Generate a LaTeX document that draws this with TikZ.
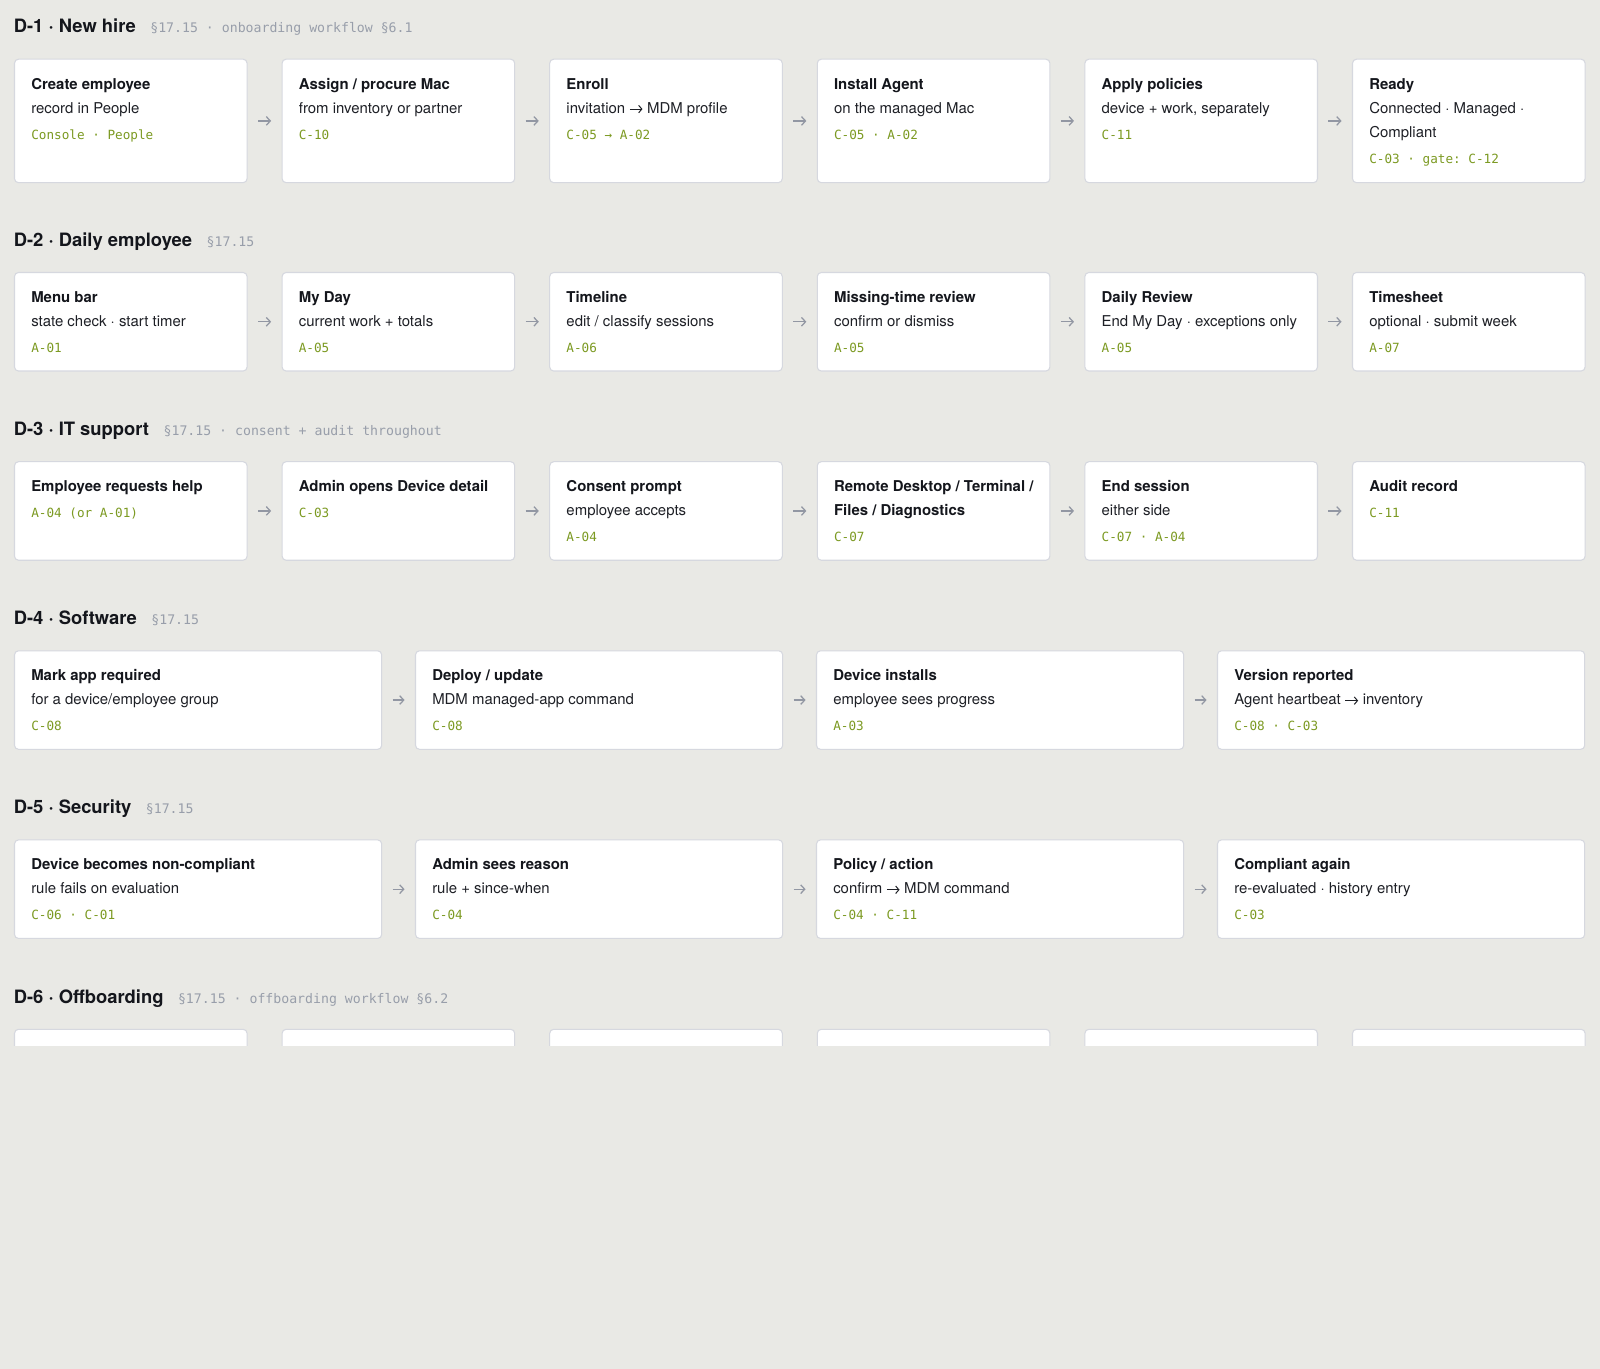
\documentclass[tikz,border=0pt]{standalone}
\usepackage{fontspec}
\setmainfont{TeX Gyre Heros}
\setmonofont{DejaVu Sans Mono}
\usetikzlibrary{calc,arrows.meta}
\definecolor{bgc}{RGB}{233,233,229}
\definecolor{bordc}{RGB}{214,216,223}
\definecolor{ttlc}{RGB}{20,22,28}
\definecolor{subc}{RGB}{30,32,38}
\definecolor{codec}{RGB}{124,154,34}
\definecolor{notec}{RGB}{152,158,170}
\definecolor{arrc}{RGB}{146,151,163}
\newcommand{\rarr}{\tikz[baseline=-3.1pt]\draw[line width=0.75pt,-{Straight Barb[length=2.4pt,width=5.6pt]}] (0pt,0pt) -- (9.5pt,0pt);}
\tikzset{
  flowbox/.style={draw=bordc, fill=white, line width=0.8pt, rounded corners=3pt, anchor=north west, inner sep=0pt, outer sep=0pt},
  boxttl/.style={anchor=base west, inner sep=0pt, text=ttlc, font=\fontsize{11.2pt}{13pt}\selectfont\bfseries},
  boxsub/.style={anchor=base west, inner sep=0pt, text=subc, font=\fontsize{11.2pt}{13pt}\selectfont},
  boxcode/.style={anchor=base west, inner sep=0pt, text=codec, font=\fontsize{9.5pt}{11pt}\selectfont\ttfamily},
  hdr/.style={anchor=base west, inner sep=0pt, text=ttlc, font=\fontsize{13.8pt}{16pt}\selectfont\bfseries},
  hnote/.style={anchor=base west, inner sep=0pt, text=notec, font=\fontsize{9.9pt}{12pt}\selectfont\ttfamily},
  flowarrow/.style={draw=arrc, line width=0.95pt, shorten <=8.2pt, shorten >=8.2pt, -{Straight Barb[length=3pt,width=6.5pt]}}
}
% box: name, x, top y, width(pt), height(pt)
\newcommand{\mkbox}[5]{\node[flowbox, minimum width=#4, minimum height=#5] (#1) at (#2,#3) {};}
% title + sub + code
\newcommand{\boxTSC}[4]{%
  \node[boxttl] (#1-t) at ($(#1.north west)+(16.5,30)$) {#2};
  \node[boxsub] (#1-s) at ($(#1.north west)+(16.5,54)$) {#3};
  \node[boxcode] (#1-c) at ($(#1.north west)+(16.5,80)$) {#4};}
% title + code
\newcommand{\boxTC}[3]{%
  \node[boxttl] (#1-t) at ($(#1.north west)+(16.5,30)$) {#2};
  \node[boxcode] (#1-c) at ($(#1.north west)+(16.5,56)$) {#3};}
% title + sub + sub + code
\newcommand{\boxTSSC}[5]{%
  \node[boxttl] (#1-t) at ($(#1.north west)+(16.5,30)$) {#2};
  \node[boxsub] (#1-s) at ($(#1.north west)+(16.5,54)$) {#3};
  \node[boxsub] (#1-u) at ($(#1.north west)+(16.5,78)$) {#4};
  \node[boxcode] (#1-c) at ($(#1.north west)+(16.5,104)$) {#5};}
% title (two lines) + code
\newcommand{\boxTTC}[4]{%
  \node[boxttl] (#1-t) at ($(#1.north west)+(16.5,30)$) {#2};
  \node[boxttl] (#1-u) at ($(#1.north west)+(16.5,54)$) {#3};
  \node[boxcode] (#1-c) at ($(#1.north west)+(16.5,80)$) {#4};}
\begin{document}
\begin{tikzpicture}[x=0.75pt,y=-0.75pt]
\useasboundingbox (0,0) rectangle (1600,1369);
\fill[bgc] (0,0) rectangle (1600,1369);

% ---------- D-1 ----------
\node[hdr] (h1) at (13.5,32.9) {D-1 · New hire};
\node[hnote] (h1n) at ($(h1.base east)+(14,0)$) {§17.15 · onboarding workflow §6.1};
\mkbox{a1}{14.5}{59.2}{174.45pt}{92.6pt}
\mkbox{a2}{282.1}{59.2}{174.45pt}{92.6pt}
\mkbox{a3}{549.7}{59.2}{174.45pt}{92.6pt}
\mkbox{a4}{817.3}{59.2}{174.45pt}{92.6pt}
\mkbox{a5}{1084.9}{59.2}{174.45pt}{92.6pt}
\mkbox{a6}{1352.5}{59.2}{174.45pt}{92.6pt}
\boxTSC{a1}{Create employee}{record in People}{Console · People}
\boxTSC{a2}{Assign / procure Mac}{from inventory or partner}{C-10}
\boxTSC{a3}{Enroll}{invitation \rarr{} MDM profile}{C-05 → A-02}
\boxTSC{a4}{Install Agent}{on the managed Mac}{C-05 · A-02}
\boxTSC{a5}{Apply policies}{device + work, separately}{C-11}
\boxTSSC{a6}{Ready}{Connected · Managed ·}{Compliant}{C-03 · gate: C-12}
\draw[flowarrow] (a1) -- (a2);
\draw[flowarrow] (a2) -- (a3);
\draw[flowarrow] (a3) -- (a4);
\draw[flowarrow] (a4) -- (a5);
\draw[flowarrow] (a5) -- (a6);

% ---------- D-2 ----------
\node[hdr] (h2) at (13.5,246.2) {D-2 · Daily employee};
\node[hnote] (h2n) at ($(h2.base east)+(14,0)$) {§17.15};
\mkbox{b1}{14.5}{272.5}{174.45pt}{73.9pt}
\mkbox{b2}{282.1}{272.5}{174.45pt}{73.9pt}
\mkbox{b3}{549.7}{272.5}{174.45pt}{73.9pt}
\mkbox{b4}{817.3}{272.5}{174.45pt}{73.9pt}
\mkbox{b5}{1084.9}{272.5}{174.45pt}{73.9pt}
\mkbox{b6}{1352.5}{272.5}{174.45pt}{73.9pt}
\boxTSC{b1}{Menu bar}{state check · start timer}{A-01}
\boxTSC{b2}{My Day}{current work + totals}{A-05}
\boxTSC{b3}{Timeline}{edit / classify sessions}{A-06}
\boxTSC{b4}{Missing-time review}{confirm or dismiss}{A-05}
\boxTSC{b5}{Daily Review}{End My Day · exceptions only}{A-05}
\boxTSC{b6}{Timesheet}{optional · submit week}{A-07}
\draw[flowarrow] (b1) -- (b2);
\draw[flowarrow] (b2) -- (b3);
\draw[flowarrow] (b3) -- (b4);
\draw[flowarrow] (b4) -- (b5);
\draw[flowarrow] (b5) -- (b6);

% ---------- D-3 ----------
\node[hdr] (h3) at (13.5,435.4) {D-3 · IT support};
\node[hnote] (h3n) at ($(h3.base east)+(14,0)$) {§17.15 · consent + audit throughout};
\mkbox{c1}{14.5}{461.7}{174.45pt}{73.9pt}
\mkbox{c2}{282.1}{461.7}{174.45pt}{73.9pt}
\mkbox{c3}{549.7}{461.7}{174.45pt}{73.9pt}
\mkbox{c4}{817.3}{461.7}{174.45pt}{73.9pt}
\mkbox{c5}{1084.9}{461.7}{174.45pt}{73.9pt}
\mkbox{c6}{1352.5}{461.7}{174.45pt}{73.9pt}
\boxTC{c1}{Employee requests help}{A-04 (or A-01)}
\boxTC{c2}{Admin opens Device detail}{C-03}
\boxTSC{c3}{Consent prompt}{employee accepts}{A-04}
\boxTTC{c4}{Remote Desktop / Terminal /}{Files / Diagnostics}{C-07}
\boxTSC{c5}{End session}{either side}{C-07 · A-04}
\boxTC{c6}{Audit record}{C-11}
\draw[flowarrow] (c1) -- (c2);
\draw[flowarrow] (c2) -- (c3);
\draw[flowarrow] (c3) -- (c4);
\draw[flowarrow] (c4) -- (c5);
\draw[flowarrow] (c5) -- (c6);

% ---------- D-4 ----------
\node[hdr] (h4) at (13.5,624.5) {D-4 · Software};
\node[hnote] (h4n) at ($(h4.base east)+(14,0)$) {§17.15};
\mkbox{d1}{14.5}{650.8}{275.4pt}{73.9pt}
\mkbox{d2}{415.5}{650.8}{275.4pt}{73.9pt}
\mkbox{d3}{816.5}{650.8}{275.4pt}{73.9pt}
\mkbox{d4}{1217.5}{650.8}{275.4pt}{73.9pt}
\boxTSC{d1}{Mark app required}{for a device/employee group}{C-08}
\boxTSC{d2}{Deploy / update}{MDM managed-app command}{C-08}
\boxTSC{d3}{Device installs}{employee sees progress}{A-03}
\boxTSC{d4}{Version reported}{Agent heartbeat \rarr{} inventory}{C-08 · C-03}
\draw[flowarrow] (d1) -- (d2);
\draw[flowarrow] (d2) -- (d3);
\draw[flowarrow] (d3) -- (d4);

% ---------- D-5 ----------
\node[hdr] (h5) at (13.5,813.6) {D-5 · Security};
\node[hnote] (h5n) at ($(h5.base east)+(14,0)$) {§17.15};
\mkbox{e1}{14.5}{839.9}{275.4pt}{73.9pt}
\mkbox{e2}{415.5}{839.9}{275.4pt}{73.9pt}
\mkbox{e3}{816.5}{839.9}{275.4pt}{73.9pt}
\mkbox{e4}{1217.5}{839.9}{275.4pt}{73.9pt}
\boxTSC{e1}{Device becomes non-compliant}{rule fails on evaluation}{C-06 · C-01}
\boxTSC{e2}{Admin sees reason}{rule + since-when}{C-04}
\boxTSC{e3}{Policy / action}{confirm \rarr{} MDM command}{C-04 · C-11}
\boxTSC{e4}{Compliant again}{re-evaluated · history entry}{C-03}
\draw[flowarrow] (e1) -- (e2);
\draw[flowarrow] (e2) -- (e3);
\draw[flowarrow] (e3) -- (e4);

% ---------- D-6 ----------
\node[hdr] (h6) at (13.5,1003) {D-6 · Offboarding};
\node[hnote] (h6n) at ($(h6.base east)+(14,0)$) {§17.15 · offboarding workflow §6.2};
\begin{scope}
  \clip (0,0) rectangle (1600,1045);
  \mkbox{f1}{14.5}{1029.3}{174.45pt}{73.9pt}
  \mkbox{f2}{282.1}{1029.3}{174.45pt}{73.9pt}
  \mkbox{f3}{549.7}{1029.3}{174.45pt}{73.9pt}
  \mkbox{f4}{817.3}{1029.3}{174.45pt}{73.9pt}
  \mkbox{f5}{1084.9}{1029.3}{174.45pt}{73.9pt}
  \mkbox{f6}{1352.5}{1029.3}{174.45pt}{73.9pt}
\end{scope}
\end{tikzpicture}
\end{document}
